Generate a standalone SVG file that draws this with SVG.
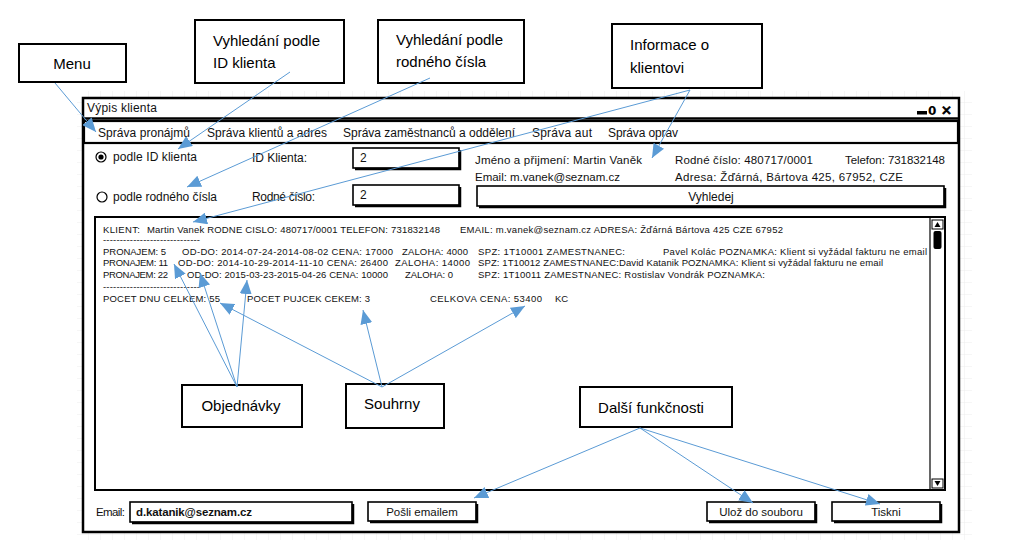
<svg xmlns="http://www.w3.org/2000/svg" width="1010" height="558" viewBox="0 0 1010 558">
<defs>
<pattern id="grid" width="12" height="12" patternUnits="userSpaceOnUse" x="77" y="91">
<path d="M12,0 V12 M0,12 H12" fill="none" stroke="#ececec" stroke-width="1"/>
</pattern>
<marker id="ah" markerUnits="userSpaceOnUse" markerWidth="15" markerHeight="12" refX="14" refY="6" orient="auto">
<path d="M0,0 L14,6 L0,12 z" fill="#5B9BD5"/>
</marker>
<style>
.call{fill:#fff;stroke:#000;stroke-width:2}
.ct{font-family:"Liberation Sans",Arial,sans-serif;font-size:15px;fill:#000}
.frame{fill:#fff;stroke:#000;stroke-width:2.5}
.box{fill:#fff;stroke:#000;stroke-width:1.6}
.sh{fill:none;stroke:#000;stroke-width:2.5}
.ui{font-family:"Liberation Sans",Arial,sans-serif;font-size:12px;fill:#111}
.ui2{font-family:"Liberation Sans",Arial,sans-serif;font-size:11.5px;fill:#111}
.tx{font-family:"Liberation Sans",Arial,sans-serif;font-size:9.5px;fill:#111}
.con{fill:none;stroke:#5B9BD5;stroke-width:1;marker-end:url(#ah)}
</style>
</defs>
<rect width="1010" height="558" fill="#fff"/>
<rect x="77" y="91" width="895" height="449" fill="url(#grid)"/>

<g id="window">
<rect class="frame" x="83" y="98" width="876" height="434"/>
<line x1="83" y1="118.5" x2="959" y2="118.5" stroke="#000" stroke-width="2.5"/>
<text class="ui" x="87" y="112" textLength="70">Výpis klienta</text>
<rect x="917" y="111" width="10" height="3.5" fill="#000"/>
<text x="928" y="115" font-family="DejaVu Sans, sans-serif" font-size="12" font-weight="bold" fill="#000">0</text>
<text x="941" y="115" font-family="DejaVu Sans, sans-serif" font-size="13" font-weight="bold" fill="#000" stroke="#000" stroke-width="0.8">✕</text>
</g>

<g id="menubar">
<rect x="84" y="121" width="874" height="22" fill="#fff" stroke="#000" stroke-width="2.2"/>
<text class="ui" x="98" y="137" textLength="92">Správa pronájmů</text>
<text class="ui" x="207" y="137" textLength="120">Správa klientů a adres</text>
<text class="ui" x="343" y="137" textLength="172">Správa zaměstnanců a oddělení</text>
<text class="ui" x="532" y="137" textLength="60">Správa aut</text>
<text class="ui" x="608" y="137" textLength="70">Správa oprav</text>
</g>

<g id="search-form">
<circle cx="101" cy="157" r="5" fill="#fff" stroke="#000" stroke-width="1.2"/>
<circle cx="101" cy="157" r="2.6" fill="#000"/>
<text class="ui" x="113" y="161" textLength="84">podle ID klienta</text>
<circle cx="102" cy="197" r="5" fill="#fff" stroke="#000" stroke-width="1.2"/>
<text class="ui" x="113" y="201" textLength="104">podle rodného čísla</text>
<text class="ui" x="252" y="162" textLength="55">ID Klienta:</text>
<text class="ui" x="252" y="201" textLength="63">Rodné číslo:</text>
<rect class="box" x="353" y="148" width="106" height="20"/>
<path class="sh" d="M355,169 H460 V150"/>
<text class="ui" x="360" y="162">2</text>
<rect class="box" x="353" y="185" width="106" height="20"/>
<path class="sh" d="M355,206 H460 V187"/>
<text class="ui" x="360" y="199">2</text>
</g>

<g id="client-info">
<text class="ui2" x="475" y="164" textLength="167">Jméno a přijmení: Martin Vaněk</text>
<text class="ui2" x="675" y="164" textLength="138">Rodné číslo: 480717/0001</text>
<text class="ui2" x="845" y="164" textLength="100">Telefon: 731832148</text>
<text class="ui2" x="475" y="181" textLength="145">Email: m.vanek@seznam.cz</text>
<text class="ui2" x="675" y="181" textLength="228">Adresa: Žďárná, Bártova 425, 67952, CZE</text>
</g>

<g id="btn-vyhledej">
<rect class="box" x="477" y="186" width="467" height="20"/>
<path class="sh" d="M479,207 H945 V188"/>
<text class="ui" x="711" y="201" text-anchor="middle">Vyhledej</text>
</g>

<g id="output-area">
<rect x="95" y="217" width="850" height="273" fill="#fff" stroke="#000" stroke-width="2"/>
<line x1="930" y1="217" x2="930" y2="490" stroke="#000" stroke-width="1.2"/>
<rect x="932" y="220" width="11" height="9" fill="#fff" stroke="#000" stroke-width="1"/>
<path d="M934.5,227 L937.5,222 L940.5,227 z" fill="#000"/>
<rect x="933.5" y="231" width="8" height="18" rx="2" fill="#000"/>
<rect x="932" y="479" width="11" height="9" fill="#fff" stroke="#000" stroke-width="1"/>
<path d="M934.5,481 L937.5,486 L940.5,481 z" fill="#000"/>
<text class="tx" x="103" y="233" textLength="37">KLIENT:</text>
<text class="tx" x="147" y="233" textLength="293">Martin Vanek RODNE CISLO: 480717/0001 TELEFON: 731832148</text>
<text class="tx" x="460" y="233" textLength="323">EMAIL: m.vanek@seznam.cz ADRESA: Žďárná Bártova 425 CZE 67952</text>
<text class="tx" x="103" y="243" textLength="97">-----------------------------</text>
<text class="tx" x="103" y="255" textLength="63">PRONAJEM: 5</text>
<text class="tx" x="182" y="255" textLength="211">OD-DO: 2014-07-24-2014-08-02 CENA: 17000</text>
<text class="tx" x="402" y="255" textLength="66">ZALOHA: 4000</text>
<text class="tx" x="478" y="255" textLength="147">SPZ: 1T10001 ZAMESTNANEC:</text>
<text class="tx" x="663" y="255" textLength="264">Pavel Kolác POZNAMKA: Klient si vyžádal fakturu ne email</text>
<text class="tx" x="103" y="266" textLength="65">PRONAJEM: 11</text>
<text class="tx" x="178" y="266" textLength="210">OD-DO: 2014-10-29-2014-11-10 CENA: 26400</text>
<text class="tx" x="395" y="266" textLength="75">ZALOHA: 14000</text>
<text class="tx" x="478" y="266" textLength="405">SPZ: 1T10012 ZAMESTNANEC:David Katanik POZNAMKA: Klient si vyžádal fakturu ne email</text>
<text class="tx" x="103" y="278" textLength="65">PRONAJEM: 22</text>
<text class="tx" x="187" y="278" textLength="201">OD-DO: 2015-03-23-2015-04-26 CENA: 10000</text>
<text class="tx" x="405" y="278" textLength="48">ZALOHA: 0</text>
<text class="tx" x="478" y="278" textLength="287">SPZ: 1T10011 ZAMESTNANEC: Rostislav Vondrák POZNAMKA:</text>
<text class="tx" x="103" y="290" textLength="97">-----------------------------</text>
<text class="tx" x="103" y="302" textLength="117">POCET DNU CELKEM: 55</text>
<text class="tx" x="247" y="302" textLength="123">POCET PUJCEK CEKEM: 3</text>
<text class="tx" x="430" y="302" textLength="112">CELKOVA CENA: 53400</text>
<text class="tx" x="555" y="302" textLength="13">KC</text>
</g>

<g id="email-field">
<text class="ui2" x="96" y="516" textLength="29">Email:</text>
<rect class="box" x="130" y="502" width="222" height="20"/>
<path class="sh" d="M132,523 H353 V504"/>
<text class="ui2" x="136" y="516" font-weight="bold" textLength="116">d.katanik@seznam.cz</text>
</g>
<g id="btn-posli">
<rect class="box" x="368" y="502" width="108" height="19"/>
<path class="sh" d="M370,522 H477 V504"/>
<text class="ui2" x="422" y="516" text-anchor="middle">Pošli emailem</text>
</g>
<g id="btn-uloz">
<rect class="box" x="707" y="502" width="108" height="19"/>
<path class="sh" d="M709,522 H816 V504"/>
<text class="ui2" x="761" y="516" text-anchor="middle">Ulož do souboru</text>
</g>
<g id="btn-tiskni">
<rect class="box" x="832" y="502" width="108" height="19"/>
<path class="sh" d="M834,522 H941 V504"/>
<text class="ui2" x="886" y="516" text-anchor="middle">Tiskni</text>
</g>

<g id="callout-menu">
<rect class="call" x="19" y="44" width="107" height="38"/>
<text class="ct" x="72" y="69" text-anchor="middle">Menu</text>
</g>
<g id="callout-id">
<rect class="call" x="195" y="20" width="149" height="63"/>
<text class="ct" x="213" y="46">Vyhledání podle</text>
<text class="ct" x="213" y="68">ID klienta</text>
</g>
<g id="callout-rc">
<rect class="call" x="378" y="20" width="146" height="63"/>
<text class="ct" x="396" y="45">Vyhledání podle</text>
<text class="ct" x="396" y="67">rodného čísla</text>
</g>
<g id="callout-info">
<rect class="call" x="612" y="24" width="150" height="64"/>
<text class="ct" x="630" y="50">Informace o</text>
<text class="ct" x="630" y="73">klientovi</text>
</g>
<g id="callout-objednavky">
<rect class="call" x="182" y="385" width="120" height="42"/>
<text class="ct" x="241" y="411" text-anchor="middle">Objednávky</text>
</g>
<g id="callout-souhrny">
<rect class="call" x="346" y="384" width="98" height="44"/>
<text class="ct" x="392" y="409" text-anchor="middle">Souhrny</text>
</g>
<g id="callout-dalsi">
<rect class="call" x="580" y="387" width="152" height="40"/>
<text class="ct" x="651" y="413" text-anchor="middle">Další funkčnosti</text>
</g>

<g id="connectors">
<line class="con" x1="55" y1="83" x2="96" y2="132"/>
<line class="con" x1="290" y1="72" x2="178" y2="149"/>
<line class="con" x1="430" y1="78" x2="187" y2="187"/>
<line class="con" x1="690" y1="90" x2="652" y2="158"/>
<line class="con" x1="690" y1="90" x2="193" y2="222"/>
<line class="con" x1="237" y1="387" x2="174" y2="264"/>
<line class="con" x1="237" y1="387" x2="200" y2="273"/>
<line class="con" x1="237" y1="387" x2="247" y2="280"/>
<line class="con" x1="382" y1="387" x2="220" y2="303"/>
<line class="con" x1="382" y1="387" x2="363" y2="310"/>
<line class="con" x1="382" y1="387" x2="525" y2="306"/>
<line class="con" x1="640" y1="428" x2="474" y2="498"/>
<line class="con" x1="640" y1="428" x2="753" y2="503"/>
<line class="con" x1="640" y1="428" x2="880" y2="504"/>
</g>
</svg>
